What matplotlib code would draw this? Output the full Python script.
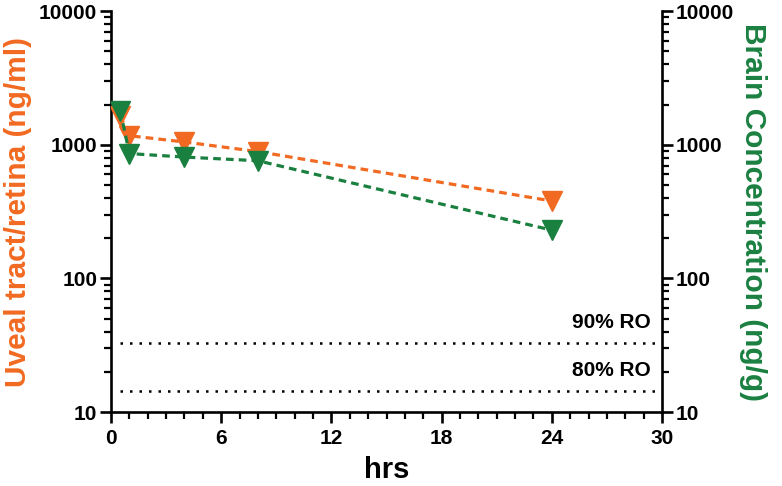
import matplotlib.pyplot as plt
from matplotlib.ticker import FixedLocator, LogLocator, NullFormatter

# Values
hours = [0.5, 1, 4, 8, 24]
uveal = [1650, 1170, 1050, 890, 380]     # ng/ml, left axis
brain = [1800, 860, 810, 760, 230]       # ng/g, right axis
ro_levels = [33, 14.5]
ro_labels = ["90% RO", "80% RO"]
x_ticks = [0, 6, 12, 18, 24, 30]
y_ticks = [10, 100, 1000, 10000]

orange = "#F26A22"
green = "#1A8040"

plt.rcParams["font.family"] = ["Liberation Sans", "DejaVu Sans"]
plt.rcParams["font.weight"] = "bold"

fig = plt.figure(figsize=(7.82, 4.86), dpi=100)
ax = fig.add_axes([0.142, 0.152, 0.7045, 0.825])
ax2 = ax.twinx()

for a in (ax, ax2):
    a.set_yscale("log")
    a.set_ylim(10, 10000)
    a.set_xlim(0, 30)
    a.yaxis.set_major_locator(FixedLocator(y_ticks))
    a.yaxis.set_minor_locator(LogLocator(base=10, subs=range(2, 10)))
    a.yaxis.set_minor_formatter(NullFormatter())
    a.set_yticklabels([str(v) for v in y_ticks])
    a.spines["top"].set_visible(False)
    for s in ("left", "right", "bottom"):
        a.spines[s].set_linewidth(1.9)
    a.tick_params(which="major", length=8, width=1.9, labelsize=15, pad=2)
    a.tick_params(which="minor", length=5, width=1.6)

ax.spines["right"].set_visible(False)
ax2.spines["left"].set_visible(False)
ax2.spines["bottom"].set_visible(False)

ax.set_xticks(x_ticks)
ax.set_xticks(range(0, 31), minor=True)
ax.tick_params(axis="x", pad=4)

ax.plot(hours, uveal, color=orange, linestyle=(0, (2.4, 1.6)), lw=2.3,
        marker="v", markersize=14, zorder=3)
ax2.plot(hours, brain, color=green, linestyle=(0, (2.4, 1.6)), lw=2.3,
         marker="v", markersize=14, zorder=2)

for lvl, lab in zip(ro_levels, ro_labels):
    ax.plot([0.5, 30], [lvl, lvl], color="black", linestyle=(0, (1, 2.8)), lw=1.8)
    ax.text(29.4, lvl * 1.2, lab, ha="right", va="bottom", fontsize=15,
            fontweight="bold")

ax.set_xlabel("hrs", fontsize=21, fontweight="bold", labelpad=6)
ax.set_ylabel("Uveal tract/retina (ng/ml)", color=orange, fontsize=21.5,
              fontweight="bold", labelpad=5)
ax2.set_ylabel("Brain Concentration (ng/g)", color=green, fontsize=21.5,
               fontweight="bold", rotation=270, labelpad=24)

fig.savefig("out.png", dpi=100)
